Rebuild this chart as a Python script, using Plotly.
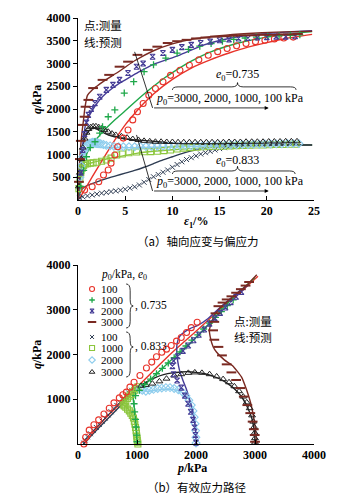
import plotly.graph_objects as go

# ---------------- (a) axial strain vs deviator stress ----------------
# dense, e0 = 0.735 : measured (m) and predicted (p)
e1_d3000_m = [0.1,0.2,0.3,0.5,0.7,0.8,1.1,1.6,2.6,3.3,4.4,5.3,6.3,7.4,8.4,9.5,10.5,11.5,12.5,13.5,14.5,15.5,16.5,17.5,18.5,19.5,20.5,21.5,22.5,23.3]
q_d3000_m  = [400,900,1300,1650,1830,2050,2200,2460,2640,2750,2930,3040,3190,3300,3370,3450,3490,3520,3550,3570,3590,3600,3610,3620,3620,3630,3630,3640,3640,3650]
e1_d3000_p = [0,0.1,0.25,0.4,0.55,0.75,1.0,1.5,2,3,4,5,6,8,10,12,15,18,21,24.8]
q_d3000_p  = [0,600,1100,1450,1700,2050,2300,2420,2500,2650,2780,2920,3060,3280,3430,3530,3610,3660,3690,3710]

e1_d2000_m = [0.3,0.5,0.7,0.9,1.1,1.4,1.8,2.3,3.0,3.7,4.4,5.3,6.2,6.9,7.9,9.0,10.0,11.0,12.0,13.0,14.0,15.0,16.0,17.0,18.0,19.0,20.0,21.0,22.0,23.0]
q_d2000_m  = [600,1100,1450,1700,1870,2000,2130,2270,2420,2530,2640,2790,2930,3000,3150,3230,3300,3360,3410,3450,3480,3510,3530,3550,3560,3570,3580,3590,3590,3600]
e1_d2000_p = [0,0.2,0.4,0.6,0.8,1.2,1.6,2.3,3,4.4,5.5,6.5,8,10.7,13.2,16,19,22,24.8]
q_d2000_p  = [0,500,1000,1400,1650,1850,2000,2200,2350,2570,2700,2820,2980,3180,3400,3550,3640,3690,3720]

e1_d1000_m = [0.3,0.6,0.9,1.3,1.8,2.3,2.6,3.2,3.9,4.9,5.9,7.0,8.0,9.3,10.5,11.7,12.9,14.1,15.3,16.5,17.7,18.9,20.1,21.3,22.5,23.5]
q_d1000_m  = [300,650,950,1150,1280,1470,1610,1830,1980,2350,2600,2820,2970,3120,3230,3310,3380,3440,3490,3530,3560,3580,3600,3610,3620,3630]
e1_d1000_p = [0,0.2,0.4,0.7,1,1.5,2,2.5,3,4,5,6,7,8,9,10,12,14,17,20,22.5,24.8]
q_d1000_p  = [0,350,650,900,1050,1220,1350,1470,1580,1780,1960,2150,2330,2500,2660,2800,3050,3250,3450,3580,3650,3700]

e1_d100_m = [0.7,1.5,2.2,2.7,3.2,3.5,3.9,4.2,4.8,5.3,5.8,6.3,6.9,7.5,8.2,9.0,9.8,10.8,11.8,12.8,13.8,14.8,15.8,16.8,17.8,18.8,19.8,20.8,21.8,22.8]
q_d100_m  = [220,290,400,550,660,810,990,1170,1360,1540,1760,1940,2120,2300,2450,2600,2740,2850,2960,3080,3180,3260,3330,3390,3440,3480,3510,3540,3560,3580]
e1_d100_p = [0,0.5,1,2,3,4,5,6,7,8,10,12,14,16,18,20,22,24.8]
q_d100_p  = [0,150,330,680,1020,1350,1650,1900,2130,2330,2650,2900,3080,3230,3360,3460,3550,3640]

# loose, e0 = 0.833
e1_l3000_m = [0.1,0.2,0.35,0.5,0.7,0.9,1.1,1.35,1.6,1.9,2.2,2.5,2.8,3.2,3.6,4.0,4.6,5.2,5.8,6.4,7.0,7.6,8.2,8.8,9.4,10.0,10.6,11.2,11.8,12.4,13.0,13.6,14.2,14.8,15.4,16.0,16.6,17.2,17.8,18.4,19.0,19.6,20.2,20.8,21.4,22.0,22.6,23.2]
q_l3000_m  = [300,600,900,1150,1350,1480,1560,1600,1620,1620,1600,1570,1540,1500,1460,1430,1400,1370,1340,1320,1300,1290,1280,1280,1275,1275,1270,1270,1270,1270,1270,1270,1270,1270,1270,1275,1275,1275,1280,1280,1280,1280,1285,1285,1285,1290,1290,1290]
e1_l3000_p = [0,0.15,0.3,0.5,0.8,1.2,1.6,2,2.5,3,3.5,4.4,5.3,6.2,7.5,9,11,13,16,19,22,24.8]
q_l3000_p  = [0,400,800,1150,1400,1530,1580,1560,1500,1450,1410,1360,1335,1320,1300,1270,1240,1225,1215,1210,1210,1210]

e1_l2000_m = [0.2,0.35,0.5,0.65,0.8,0.95,1.1,1.25,1.4,1.55,1.7,1.85,2.0,2.2,2.4,2.7,3.0,3.4,3.8,4.3,4.8,5.4,6.0,6.6,7.2,7.8,8.4,9.0,9.6,10.2,10.8,11.4,12.0,12.6,13.2,13.8,14.4,15.0,15.6,16.2,16.8,17.4,18.0,18.6,19.2,19.8,20.4,21.0,21.6,22.2,22.8,23.4]
q_l2000_m  = [500,750,950,1080,1150,1200,1230,1250,1260,1270,1270,1270,1260,1250,1240,1220,1200,1190,1180,1170,1170,1170,1170,1175,1175,1180,1180,1185,1185,1190,1190,1195,1195,1200,1200,1205,1205,1210,1210,1215,1215,1220,1220,1225,1225,1230,1230,1235,1235,1240,1240,1240]
e1_l2000_p = [0,0.15,0.3,0.5,0.8,1.2,1.6,2,3,4,6,8,10,13,16,20,24.8]
q_l2000_p  = [0,350,650,900,1080,1150,1170,1160,1150,1150,1150,1160,1170,1180,1190,1200,1210]

e1_l1000_m = [0.1,0.2,0.3,0.45,0.6,0.8,1.0,1.3,1.6,2.0,2.5,3.0,3.5,4.1,4.7,5.4,6.2,7.0,7.7,8.4,9.1,9.8,10.5,11.2,11.9,12.6,13.3,14.0,14.7,15.4,16.1,16.8,17.5,18.2,18.9,19.6,20.3,21.0,21.7,22.4,23.1]
q_l1000_m  = [250,450,600,700,760,790,800,810,815,830,850,880,920,990,1010,1040,1056,1060,1063,1070,1085,1100,1120,1140,1150,1160,1170,1175,1180,1185,1190,1195,1200,1205,1210,1210,1215,1220,1220,1225,1225]
e1_l1000_p = [0,0.1,0.2,0.4,0.7,1,1.5,2,3,4,5,6.2,8,10,12.9,16,19,22,24.8]
q_l1000_p  = [0,300,550,700,760,790,820,850,900,940,980,1026,1070,1105,1140,1170,1190,1200,1210]

e1_l100_m = [0.2,0.5,1.0,1.5,2.0,2.5,3.0,3.5,4.0,4.5,5.0,5.5,6.0,6.5,7.0,7.5,8.0,8.5,9.0,9.5,10.0,10.5,11.0,11.5,12.0,12.5,13.0,13.5,14.0,14.5,15.0,15.5,16.0,16.5,17.0,17.5,18.0,18.5,19.0,19.5,20.0,20.5,21.0,21.5,22.0,22.5,23.0]
q_l100_m  = [40,70,90,110,130,150,165,185,200,215,235,260,290,330,390,450,510,560,610,660,720,780,840,890,930,970,1010,1040,1070,1100,1130,1150,1170,1190,1200,1210,1215,1220,1225,1230,1230,1235,1235,1240,1240,1240,1245]
e1_l100_p = [0,0.2,0.5,1,1.5,2,3,4,5,6,7,8,9,10,11,12,13,15,18,21,24.8]
q_l100_p  = [0,150,250,320,360,400,470,530,590,650,720,800,880,950,1020,1080,1130,1170,1190,1200,1210]

# ---------------- (b) effective stress path ----------------
p_d100_m = [100,130,190,270,350,440,530,610,700,760,820,880,950,1050,1160,1250,1330,1420,1500,1580,1670,1750,1840,1920,2020]
q_d100_m2 = [0,150,310,430,540,670,800,920,1030,1100,1160,1270,1380,1530,1700,1830,1950,2050,2120,2200,2300,2380,2490,2600,2720]
p_d100_p = [100,250,450,700,950,1250,1600,2000,2400,2800,3050]
q_d100_p2 = [0,250,550,880,1200,1600,2050,2520,3000,3450,3750]

p_d1000_m = [1000,995,985,975,960,950,975,1040,1130,1230,1330,1430,1530,1630,1730,1830,1930,2030,2130,2230,2330,2430,2530,2630]
q_d1000_m2 = [50,200,380,550,720,900,1080,1200,1330,1450,1570,1690,1810,1930,2060,2190,2320,2440,2570,2700,2830,2960,3090,3220]
p_d1000_p = [1000,995,980,960,940,935,960,1030,1150,1300,1550,1950,2300,2650,2900,3000]
q_d1000_p2 = [0,250,500,750,950,1100,1180,1250,1350,1530,1840,2320,2800,3300,3600,3720]

p_d2000_m = [2000,1990,1975,1950,1910,1865,1810,1750,1680,1620,1600,1620,1690,1780,1870,1960,2050,2140,2230,2320,2410,2500,2590,2680,2770]
q_d2000_m2 = [30,200,370,540,720,900,1080,1260,1420,1560,1740,1860,1960,2080,2200,2320,2440,2560,2690,2810,2930,3050,3170,3290,3400]
p_d2000_p = [2000,1995,1975,1940,1890,1830,1770,1720,1690,1675,1680,1720,1800,1900,2030,2200,2450,2700,2900]
q_d2000_p2 = [0,250,500,750,1000,1250,1450,1650,1850,2050,2250,2400,2500,2580,2650,2800,3100,3380,3560]

p_d3000_m = [3000,2995,2980,2960,2920,2870,2810,2750,2680,2600,2520,2440,2380,2310,2290,2310,2330,2380,2450,2520,2600,2680,2760,2840,2900]
q_d3000_m2 = [50,200,330,500,690,870,1060,1250,1430,1600,1780,1980,2170,2330,2540,2730,2920,3080,3160,3230,3300,3380,3460,3540,3620]
p_d3000_p = [3026,3015,2990,2930,2860,2770,2620,2480,2350,2290,2240,2227,2261,2300,2380,2480,2600,2750,2900,3030]
q_d3000_p2 = [0,250,500,900,1200,1500,1750,1880,2050,2175,2400,2550,2700,2850,3000,3120,3250,3420,3600,3780]

p_l100_m = [100,120,160,210,260,310,360,410,460,510,560,610,660,710,760,810,860,910,960]
q_l100_m2 = [20,90,160,230,300,370,440,510,580,650,720,790,860,930,1000,1070,1140,1200,1250]
p_l100_p = [100,200,350,500,650,800,930,1000]
q_l100_p2 = [0,150,360,560,760,960,1150,1230]

p_l1000_m = [1015,1010,1005,1000,995,990,985,975,965,955,940,920,895,870,840,810,785,765,780,810,840,870,900,930,960,990,1015]
q_l1000_m2 = [0,40,80,130,180,240,300,370,440,510,580,640,690,740,780,820,850,875,920,970,1020,1070,1110,1160,1200,1240,1280]
p_l1000_p = [1000,990,970,930,870,800,760,800,870,950,1020]
q_l1000_p2 = [0,200,400,600,750,850,880,960,1060,1160,1240]

p_l2000_m = [2000,1998,1993,1985,1970,1950,1920,1880,1830,1770,1700,1630,1560,1490,1420,1350,1280,1210,1150,1090,1050]
q_l2000_m2 = [20,150,300,450,600,740,870,980,1080,1160,1210,1240,1260,1260,1250,1240,1220,1200,1180,1200,1230]
p_l2000_p = [2000,1995,1975,1940,1880,1800,1700,1580,1450,1320,1200,1100,1040]
q_l2000_p2 = [0,300,600,820,1000,1120,1190,1220,1220,1200,1180,1190,1230]

p_l3000_m = [3000,3000,2995,2985,2970,2950,2910,2860,2800,2730,2650,2560,2460,2350,2230,2100,1980,1870,1750,1630,1500,1380,1260,1150,1070]
q_l3000_m2 = [30,130,250,380,500,640,800,930,1060,1180,1290,1380,1450,1510,1560,1590,1600,1590,1560,1530,1460,1400,1350,1320,1300]
p_l3000_p = [3000,2995,2975,2940,2880,2800,2700,2580,2450,2300,2150,2000,1870,1750,1600,1450,1300,1180,1080,1030]
q_l3000_p2 = [0,200,400,600,800,1000,1170,1310,1420,1510,1570,1600,1616,1610,1590,1550,1480,1400,1320,1280]

x_ticks_a = [0, 5, 10, 15, 20, 25]
y_ticks_a = [500, 1000, 1500, 2000, 2500, 3000, 3500, 4000]
x_ticks_b = [0, 1000, 2000, 3000, 4000]
y_ticks_b = [1000, 2000, 3000, 4000]
legend_labels = ["100", "1000", "2000", "3000", "100", "1000", "2000", "3000"]

# ---------------- styles ----------------
SERIF = "Liberation Serif"
CJK = "Noto Sans CJK SC"
style = {
    "d100":  dict(color="#E8332A", symbol="circle-open", size=6, lw=1.1),
    "d1000": dict(color="#1FA84A", symbol="cross-thin", size=5, lw=1.3),
    "d2000": dict(color="#453C96", symbol="hourglass-open", size=5, lw=1.1),
    "d3000": dict(color="#7A2A22", symbol="line-ew", size=7, lw=2.0),
    "l100":  dict(color="#2E3C52", symbol="x-thin", size=5, lw=1.0),
    "l1000": dict(color="#8CC63E", symbol="square-open", size=6, lw=1.1),
    "l2000": dict(color="#8ECDED", symbol="diamond-open", size=6, lw=1.1),
    "l3000": dict(color="#222222", symbol="triangle-up-open", size=6, lw=1.0),
}

top = {
    "d100": (e1_d100_m, q_d100_m, e1_d100_p, q_d100_p),
    "d1000": (e1_d1000_m, q_d1000_m, e1_d1000_p, q_d1000_p),
    "d2000": (e1_d2000_m, q_d2000_m, e1_d2000_p, q_d2000_p),
    "d3000": (e1_d3000_m, q_d3000_m, e1_d3000_p, q_d3000_p),
    "l100": (e1_l100_m, q_l100_m, e1_l100_p, q_l100_p),
    "l1000": (e1_l1000_m, q_l1000_m, e1_l1000_p, q_l1000_p),
    "l2000": (e1_l2000_m, q_l2000_m, e1_l2000_p, q_l2000_p),
    "l3000": (e1_l3000_m, q_l3000_m, e1_l3000_p, q_l3000_p),
}
bot = {
    "d100": (p_d100_m, q_d100_m2, p_d100_p, q_d100_p2),
    "d1000": (p_d1000_m, q_d1000_m2, p_d1000_p, q_d1000_p2),
    "d2000": (p_d2000_m, q_d2000_m2, p_d2000_p, q_d2000_p2),
    "d3000": (p_d3000_m, q_d3000_m2, p_d3000_p, q_d3000_p2),
    "l100": (p_l100_m, q_l100_m2, p_l100_p, q_l100_p2),
    "l1000": (p_l1000_m, q_l1000_m2, p_l1000_p, q_l1000_p2),
    "l2000": (p_l2000_m, q_l2000_m2, p_l2000_p, q_l2000_p2),
    "l3000": (p_l3000_m, q_l3000_m2, p_l3000_p, q_l3000_p2),
}
order = ["l100", "l1000", "l2000", "l3000", "d100", "d1000", "d2000", "d3000"]

fig = go.Figure()

def add_panel(data, xa, ya):
    for k in order:
        s = style[k]
        _, _, xp, yp = data[k]
        fig.add_trace(go.Scatter(x=xp, y=yp, mode="lines", xaxis=xa, yaxis=ya,
                                 line=dict(color=s["color"], width=1.4, shape="spline", smoothing=0.5),
                                 showlegend=False, hoverinfo="skip"))
    for k in order:
        s = style[k]
        xm, ym, _, _ = data[k]
        fig.add_trace(go.Scatter(x=xm, y=ym, mode="markers", xaxis=xa, yaxis=ya,
                                 marker=dict(symbol=s["symbol"], size=s["size"], color=s["color"],
                                             line=dict(color=s["color"], width=s["lw"])),
                                 showlegend=False, hoverinfo="skip", cliponaxis=False))

add_panel(top, "x", "y")
add_panel(bot, "x2", "y2")

# ---------------- layout ----------------
# the page body adds an 8 px offset, so the figure is 8 px smaller and shifted
OFF = 8
W, H = 358 - OFF, 498 - OFF
L, R, T = 78 - OFF, 44, 18 - OFF
B = H - (444 - OFF)
PH = H - T - B
def py(pix):  # window pixel row -> paper y
    return (444 - pix) / PH
def px(pix):
    return (pix - 78) / (W - L - R)

tickfont = dict(family=SERIF, size=12, color="black", weight="bold")
axis_common = dict(showline=True, linecolor="black", linewidth=1, showgrid=False, zeroline=False,
                   ticklen=4, tickcolor="black", tickwidth=1, tickfont=tickfont)

fig.update_layout(
    width=W, height=H, margin=dict(l=L, r=R, t=T, b=B, autoexpand=False),
    paper_bgcolor="white", plot_bgcolor="white", showlegend=False,
    xaxis=dict(domain=[0, 1], anchor="y", range=[0, 25], tickvals=x_ticks_a, ticks="inside", **axis_common),
    yaxis=dict(domain=[py(200), 1], anchor="x", range=[0, 4000], tickvals=y_ticks_a, ticks="outside", **axis_common),
    xaxis2=dict(domain=[0, 1], anchor="y2", range=[0, 4000], tickvals=x_ticks_b, ticks="inside", **axis_common),
    yaxis2=dict(domain=[0, py(265)], anchor="x2", range=[0, 4000], tickvals=y_ticks_b, ticks="outside", **axis_common),
)

ann = []
def A(text, x, y, xref="paper", yref="paper", size=12, family=SERIF, xanchor="center", yanchor="middle", angle=0, weight="normal"):
    ann.append(dict(text=text, x=x, y=y, xref=xref, yref=yref, showarrow=False, xanchor=xanchor,
                    yanchor=yanchor, textangle=angle, font=dict(family=family, size=size, color="black", weight=weight)))

# axis titles
A("<i>q</i>/kPa", px(37), py(100), angle=-90, weight="bold")
A("<i>ε</i><sub>1</sub>/%", px(196), py(222), weight="bold")
A("<i>q</i>/kPa", px(37), py(355), angle=-90, weight="bold")
A("<i>p</i>/kPa", px(192), py(468), weight="bold")
# captions
A("（a）轴向应变与偏应力", px(197), py(241), family=CJK, size=11.5)
A("（b）有效应力路径", px(196), py(487), family=CJK, size=11.5)

# top panel notes
A("点:测量", 0.45, 3850, "x", "y", size=11.5, family=CJK, xanchor="left")
A("线:预测", 0.45, 3480, "x", "y", size=11.5, family=CJK, xanchor="left")
A("<i>p</i><sub>0</sub>=3000, 2000, 1000, 100 kPa", 8.0, 2210, "x", "y", size=12, xanchor="left")
A("<i>e</i><sub>0</sub>=0.735", 16.9, 2740, "x", "y", size=12)
A("<i>p</i><sub>0</sub>=3000, 2000, 1000, 100 kPa", 8.0, 390, "x", "y", size=12, xanchor="left")
A("<i>e</i><sub>0</sub>=0.833", 16.9, 850, "x", "y", size=12)

# bent arrows
shapes = []
shapes.append(dict(type="line", xref="x", yref="y", x0=6.0, y0=3256, x1=7.9, y1=2024, line=dict(color="black", width=0.8)))
shapes.append(dict(type="line", xref="x", yref="y", x0=6.2, y0=1430, x1=7.9, y1=198, line=dict(color="black", width=0.8)))
for yv in (2024, 198):
    ann.append(dict(x=20.2, y=yv, ax=7.9, ay=yv, xref="x", yref="y", axref="x", ayref="y", text="",
                    showarrow=True, arrowhead=2, arrowsize=1, arrowwidth=0.8, arrowcolor="black"))

def brace_h(x1, x2, xm, ye, yb, yt, d):
    return (f"M {x1},{ye} Q {x1},{yb} {x1+d},{yb} L {xm-d},{yb} Q {xm},{yb} {xm},{yt} "
            f"Q {xm},{yb} {xm+d},{yb} L {x2-d},{yb} Q {x2},{yb} {x2},{ye}")
shapes.append(dict(type="path", xref="x", yref="y", path=brace_h(10.0, 23.1, 16.9, 2420, 2486, 2580, 0.6),
                   line=dict(color="black", width=0.8)))
shapes.append(dict(type="path", xref="x", yref="y", path=brace_h(10.0, 23.0, 16.9, 572, 638, 740, 0.6),
                   line=dict(color="black", width=0.8)))

# bottom panel legend (drawn inside axes)
def bx(pix):
    return (pix - 78) * 17.0
def by(pix):
    return (444 - pix) * 22.35
row_pix = [289, 300, 311, 322, 337, 348, 360, 372]
leg_keys = ["d100", "d1000", "d2000", "d3000", "l100", "l1000", "l2000", "l3000"]
for k, lab, rp in zip(leg_keys, legend_labels, row_pix):
    s = style[k]
    fig.add_trace(go.Scatter(x=[bx(92)], y=[by(rp)], mode="markers", xaxis="x2", yaxis="y2",
                             marker=dict(symbol=s["symbol"], size=s["size"] - 1, color=s["color"],
                                         line=dict(color=s["color"], width=s["lw"])),
                             showlegend=False, hoverinfo="skip"))
    A(lab, bx(99), by(rp), "x2", "y2", size=11, xanchor="left")
A("<i>p</i><sub>0</sub>/kPa, <i>e</i><sub>0</sub>", bx(99), by(275), "x2", "y2", size=11.5, xanchor="left")
A(", 0.735", bx(133), by(306), "x2", "y2", size=11.5, xanchor="left")
A(", 0.833", bx(133), by(347), "x2", "y2", size=11.5, xanchor="left")

def brace_v(xl, xb, xt, y1, y2, ym, d):
    return (f"M {xl},{y1} Q {xb},{y1} {xb},{y1-d} L {xb},{ym+d} Q {xb},{ym} {xt},{ym} "
            f"Q {xb},{ym} {xb},{ym-d} L {xb},{y2+d} Q {xb},{y2} {xl},{y2}")
shapes.append(dict(type="path", xref="x2", yref="y2", path=brace_v(bx(126), bx(130), bx(133), by(284), by(328), by(306), 150),
                   line=dict(color="black", width=0.8)))
shapes.append(dict(type="path", xref="x2", yref="y2", path=brace_v(bx(126), bx(130), bx(133), by(332), by(377), by(347), 150),
                   line=dict(color="black", width=0.8)))

A("点:测量", bx(252), by(321), "x2", "y2", size=11.5, family=CJK)
A("线:预测", bx(252), by(337), "x2", "y2", size=11.5, family=CJK)

fig.update_layout(annotations=ann, shapes=shapes)
fig.write_html("out.html")
